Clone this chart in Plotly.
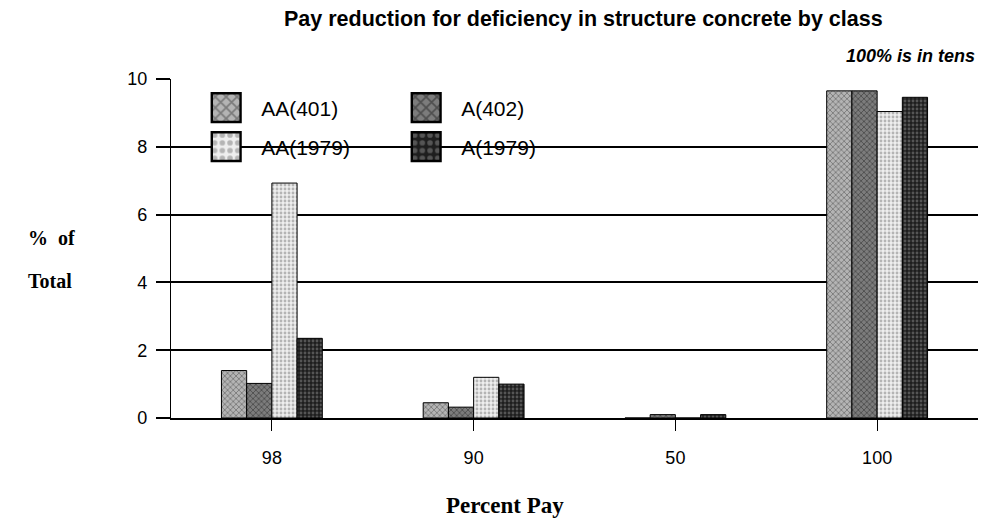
import plotly.graph_objects as go

categories = ["98", "90", "50", "100"]
aa_401 = [1.4, 0.45, 0.0, 9.65]
a_402 = [1.02, 0.32, 0.1, 9.65]
aa_1979 = [6.93, 1.2, 0.0, 9.04]
a_1979 = [2.35, 1.0, 0.1, 9.46]
y_ticks = [0, 2, 4, 6, 8, 10]

series = [
    ("AA(401)", aa_401, "#b4b4b4", "#404040", "x", "legend"),
    ("A(402)", a_402, "#7c7c7c", "#202020", "x", "legend"),
    ("AA(1979)", aa_1979, "#eeeeee", "#7a7a7a", ".", "legend2"),
    ("A(1979)", a_1979, "#1e1e1e", "#8c8c8c", ".", "legend2"),
]

fig = go.Figure()
for name, vals, bg, fg, shape, leg in series:
    fig.add_trace(go.Bar(
        x=categories, y=vals, name=name, legend=leg,
        marker=dict(
            color=bg,
            line=dict(color="black", width=1),
            pattern=dict(shape=shape, bgcolor=bg, fgcolor=fg, size=4, solidity=0.4),
        ),
    ))

SANS = "Liberation Sans, Arial, sans-serif"
SERIF = "Liberation Serif, Times New Roman, serif"

legend_common = dict(
    orientation="h", bgcolor="rgba(0,0,0,0)", itemwidth=60,
    entrywidth=125, entrywidthmode="pixels",
    font=dict(family=SANS, size=21, color="black"),
    xanchor="left", yanchor="middle", traceorder="normal",
)

def px_x(p):
    return (p - 171) / 807

def px_y(p):
    return 1 - (p - 79) / 339

fig.update_layout(
    width=981, height=518,
    margin=dict(l=171, r=3, t=79, b=100),
    paper_bgcolor="white", plot_bgcolor="white",
    barmode="group", bargap=0.5, bargroupgap=0,
    showlegend=True,
    legend=dict(x=0.025, y=px_y(108), **legend_common),
    legend2=dict(x=0.025, y=px_y(147), **legend_common),
    font=dict(family=SANS, color="black"),
    xaxis=dict(
        type="category", showgrid=False, showline=True, linecolor="black", linewidth=1.5,
        ticks="outside", ticklen=11, tickcolor="black", tickwidth=1,
        ticklabelstandoff=12,
        tickfont=dict(family=SANS, size=18, color="black"),
    ),
    yaxis=dict(
        range=[0, 10], tickvals=y_ticks, showgrid=True, gridcolor="black", gridwidth=1.5,
        showline=True, linecolor="black", linewidth=1.2, zeroline=False,
        ticks="outside", ticklen=14, tickcolor="black", tickwidth=1.5,
        ticklabelstandoff=5,
        tickfont=dict(family=SANS, size=18, color="black"),
    ),
    annotations=[
        dict(text="<b>Pay reduction for deficiency in structure concrete by class</b>",
             xref="paper", yref="paper", x=px_x(583), y=px_y(19.5),
             xanchor="center", yanchor="middle", showarrow=False,
             font=dict(family=SANS, size=21.5, color="black")),
        dict(text="<b><i>100% is in tens</i></b>",
             xref="paper", yref="paper", x=px_x(977), y=px_y(56),
             xanchor="right", yanchor="middle", showarrow=False,
             font=dict(family=SANS, size=18, color="black")),
        dict(text="<b>%&nbsp;&nbsp;of</b>",
             xref="paper", yref="paper", x=px_x(26), y=px_y(238),
             xanchor="left", yanchor="middle", align="left", showarrow=False,
             font=dict(family=SERIF, size=20, color="black")),
        dict(text="<b>Total</b>",
             xref="paper", yref="paper", x=px_x(26), y=px_y(281),
             xanchor="left", yanchor="middle", align="left", showarrow=False,
             font=dict(family=SERIF, size=20, color="black")),
        dict(text="<b>Percent Pay</b>",
             xref="paper", yref="paper", x=px_x(505), y=px_y(505),
             xanchor="center", yanchor="middle", showarrow=False,
             font=dict(family=SERIF, size=23, color="black")),
    ],
)

post = (
    "document.body.style.margin='0';"
    "document.querySelectorAll('.legendpoints path').forEach(function(p){"
    "var t=p.getAttribute('transform')||'';"
    "p.setAttribute('transform',t+' scale(2.4)');});"
)

fig.write_html("out.html", post_script=post, config={"displayModeBar": False})
